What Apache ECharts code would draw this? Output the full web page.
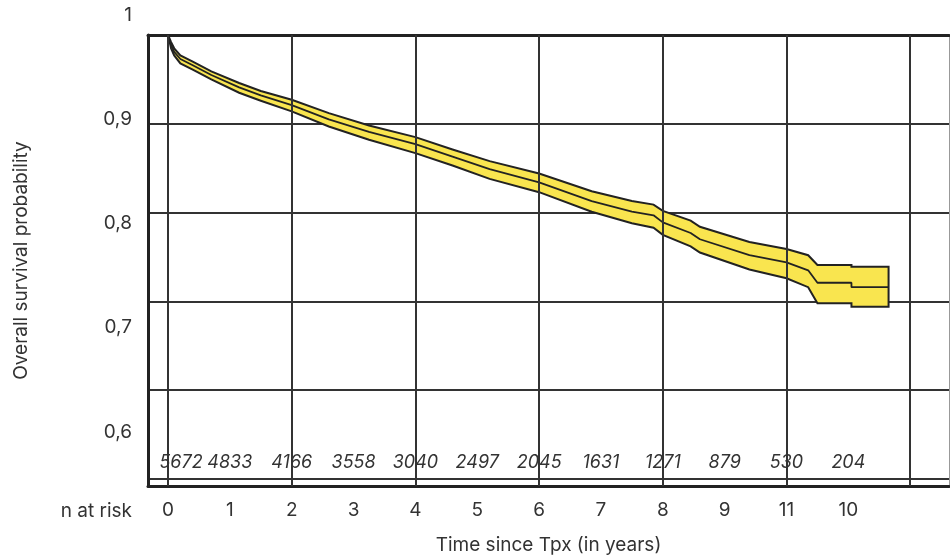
<!DOCTYPE html>
<html><head><meta charset="utf-8">
<script src="https://cdn.jsdelivr.net/npm/echarts@6/dist/echarts.min.js"></script>
<style>html,body{margin:0;padding:0;background:#fff}#c{width:950px;height:560px}</style>
</head><body><div id="c"></div>
<script>
// ---- data ----
const times    = [0, 0.05, 0.1, 0.2, 0.4, 0.7, 1.15, 1.5, 2.0, 2.6, 3.25, 4.0, 4.6, 5.2, 6.0, 6.85, 7.5, 7.85, 8.0, 8.45, 8.6, 9.4, 10.0, 10.35, 10.5, 11.05, 11.05, 11.65];
const survival = [1.000, 0.989, 0.981, 0.973, 0.966, 0.955, 0.941, 0.932, 0.921, 0.905, 0.891, 0.877, 0.863, 0.849, 0.834, 0.813, 0.801, 0.797, 0.789, 0.777, 0.770, 0.752, 0.744, 0.735, 0.721, 0.721, 0.716, 0.716];
const upper    = [1.000, 0.992, 0.985, 0.977, 0.970, 0.959, 0.946, 0.937, 0.927, 0.912, 0.898, 0.885, 0.871, 0.858, 0.844, 0.824, 0.813, 0.809, 0.802, 0.791, 0.784, 0.767, 0.759, 0.752, 0.741, 0.741, 0.739, 0.739];
const lower    = [1.000, 0.985, 0.977, 0.968, 0.961, 0.950, 0.935, 0.926, 0.914, 0.897, 0.882, 0.867, 0.853, 0.838, 0.823, 0.801, 0.788, 0.783, 0.775, 0.762, 0.755, 0.736, 0.726, 0.716, 0.698, 0.698, 0.694, 0.694];

const xTickValues = [0, 1, 2, 3, 4, 5, 6, 7, 8, 9, 10, 11];
const xTickLabels = ['0', '1', '2', '3', '4', '5', '6', '7', '8', '9', '11', '10'];
const gridYears   = [0, 2, 4, 6, 8, 10, 12];
const yTickLabels = ['0,6', '0,7', '0,8', '0,9', '1'];
const nRiskTimes  = [0, 1, 2, 3, 4, 5, 6, 7, 8, 9, 10, 11];
const nRisk       = [5672, 4833, 4166, 3558, 3040, 2497, 2045, 1631, 1271, 879, 530, 204];

// ---- chart ----
const FONT = 'Inter, "Noto Sans", sans-serif';
const TXT = '#333';
const XMIN = -0.3234, XMAX = 12.627;
const chart = echarts.init(document.getElementById('c'), null, {renderer: 'canvas'});
const survPairs = times.map((t, i) => [t, survival[i]]);

const option = {
  animation: false,
  backgroundColor: '#fff',
  textStyle: {fontFamily: FONT},
  title: {
    text: 'n at risk', right: 818, top: 502, padding: 0,
    textStyle: {fontFamily: FONT, fontSize: 19, fontWeight: 'normal', color: TXT}
  },
  grid: [
    {left: 148, right: 1, top: 35, bottom: 81},
    {left: 148, right: 1, top: 35, bottom: 73},
    {left: 148, right: 1, top: 15, bottom: 128}
  ],
  xAxis: [
    {gridIndex: 0, type: 'value', min: XMIN, max: XMAX,
     axisLine: {show: false, onZero: false}, axisTick: {show: false}, splitLine: {show: false},
     axisLabel: {
       inside: true, margin: 7, customValues: nRiskTimes,
       formatter: (v) => { const i = nRiskTimes.indexOf(v); if (i < 0) return ''; return i === 0 ? '{first|' + nRisk[i] + '}' : String(nRisk[i]); },
       fontStyle: 'italic', fontSize: 18, color: TXT, fontFamily: FONT,
       rich: {first: {padding: [0, 0, 0, 26], fontStyle: 'italic', fontSize: 18, color: TXT, fontFamily: FONT}}
     }},
    {gridIndex: 1, type: 'value', min: XMIN, max: XMAX, position: 'bottom',
     axisLine: {show: true, onZero: false, lineStyle: {color: '#222', width: 3}}, axisTick: {show: false}, splitLine: {show: false},
     axisLabel: {margin: 15, customValues: xTickValues,
       formatter: (v) => { const i = xTickValues.indexOf(v); return i < 0 ? '' : xTickLabels[i]; },
       fontSize: 19, color: TXT, fontFamily: FONT},
     name: 'Time since Tpx (in years)', nameLocation: 'middle', nameGap: 50,
     nameTextStyle: {fontSize: 19, color: TXT, fontFamily: FONT}},
    {gridIndex: 1, type: 'value', min: XMIN, max: XMAX, position: 'top',
     axisLine: {show: true, onZero: false, lineStyle: {color: '#222', width: 3}}, axisTick: {show: false},
     axisLabel: {show: false}, splitLine: {show: false}},
    {gridIndex: 2, type: 'value', min: XMIN, max: XMAX, show: false}
  ],
  yAxis: [
    {gridIndex: 0, type: 'value', min: 0.5, max: 1, interval: 0.1,
     axisLine: {show: false, onZero: false}, axisTick: {show: false}, axisLabel: {show: false},
     splitLine: {show: true, lineStyle: {color: '#333', width: 2}}},
    {gridIndex: 1, type: 'value', min: 0, max: 1, position: 'left',
     axisLine: {show: true, onZero: false, lineStyle: {color: '#222', width: 3}}, axisTick: {show: false},
     axisLabel: {show: false}, splitLine: {show: false},
     name: 'Overall survival probability', nameLocation: 'middle', nameGap: 117,
     nameTextStyle: {fontSize: 19, color: TXT, fontFamily: FONT}},
    {gridIndex: 1, type: 'value', min: 0, max: 1, position: 'right',
     axisLine: {show: true, onZero: false, lineStyle: {color: '#999', width: 1}}, axisTick: {show: false},
     axisLabel: {show: false}, splitLine: {show: false}},
    {gridIndex: 2, type: 'value', min: 0.6, max: 1, interval: 0.1,
     axisLine: {show: false, onZero: false}, axisTick: {show: false}, splitLine: {show: false},
     axisLabel: {margin: 16, formatter: (v, i) => yTickLabels[i], fontSize: 19, color: TXT, fontFamily: FONT}}
  ],
  series: [
    {type: 'line', xAxisIndex: 1, yAxisIndex: 1, data: [], z: 1, silent: true,
     markLine: {symbol: 'none', silent: true, animation: false, label: {show: false},
       lineStyle: {color: '#333', width: 2, type: 'solid'},
       data: gridYears.map(g => ({xAxis: g}))}},
    {type: 'custom', xAxisIndex: 0, yAxisIndex: 0, z: 2, silent: true, data: [[0, 1]],
     renderItem: (params, api) => {
       const pts = [];
       for (let i = 0; i < times.length; i++) pts.push(api.coord([times[i], upper[i]]));
       for (let i = times.length - 1; i >= 0; i--) pts.push(api.coord([times[i], lower[i]]));
       return {type: 'polygon', shape: {points: pts}, style: {fill: '#F9E54F', stroke: '#222', lineWidth: 2, lineJoin: 'miter'}};
     }},
    {type: 'line', xAxisIndex: 0, yAxisIndex: 0, z: 3, data: survPairs, symbol: 'none', silent: true,
     lineStyle: {color: '#222', width: 1.8}}
  ]
};
chart.setOption(option);
</script>
</body></html>
